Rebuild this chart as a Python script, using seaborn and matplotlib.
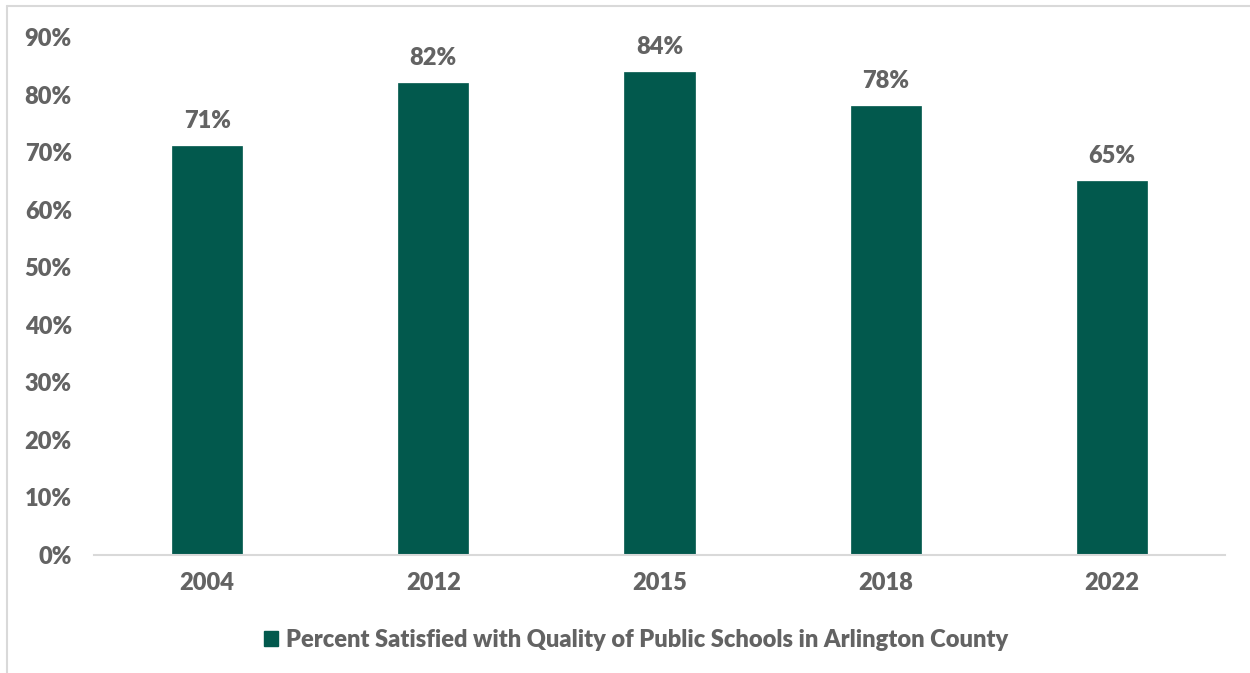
import matplotlib
matplotlib.use("Agg")
import matplotlib.pyplot as plt
import seaborn as sns
import pandas as pd
from matplotlib.patches import Patch
from matplotlib.lines import Line2D

years = ["2004", "2012", "2015", "2018", "2022"]
values = [71, 82, 84, 78, 65]
series_name = "Percent Satisfied with Quality of Public Schools in Arlington County"
yticks = [0, 10, 20, 30, 40, 50, 60, 70, 80, 90]

BAR = "#02594D"
TXT = "#636363"
GRID = "#D9D9D9"
FS = 17
WT = "heavy"

sns.set_theme(style="white")
plt.rcParams['font.family'] = ['Lato', 'DejaVu Sans']

df = pd.DataFrame({"year": years, "value": values})

fig = plt.figure(figsize=(12.5, 6.73), dpi=100)
ax = fig.add_axes([94/1250, 1 - 555/673, (1225-94)/1250, (555-37)/673])

sns.barplot(data=df, x="year", y="value", color=BAR, width=0.31,
            saturation=1, ax=ax, edgecolor=BAR, linewidth=0.5)

ax.set_ylim(0, 90)
ax.set_xlim(-0.5, 4.5)
ax.set_yticks(yticks)
ax.set_yticklabels([f"{v}%" for v in yticks])
ax.set_xlabel("")
ax.set_ylabel("")
for s in ["top", "right", "left"]:
    ax.spines[s].set_visible(False)
ax.spines["bottom"].set_color(GRID)
ax.spines["bottom"].set_linewidth(1.5)
ax.tick_params(axis="both", length=0, labelsize=FS, labelcolor=TXT)
ax.tick_params(axis="y", pad=16)
ax.tick_params(axis="x", pad=12)
for lab in ax.get_xticklabels() + ax.get_yticklabels():
    lab.set_fontweight(WT)

for i, v in enumerate(values):
    ax.annotate(f"{v}%", (i, v), xytext=(0, 10), textcoords="offset points",
                ha="center", va="bottom", fontsize=FS, fontweight=WT, color=TXT)

handle = Patch(facecolor=BAR, edgecolor=BAR)
fig.legend([handle], [series_name], loc="center", bbox_to_anchor=(636/1250, 1 - 640/673),
           frameon=False, prop={"weight": WT, "size": FS},
           handlelength=0.6, handleheight=0.6, handletextpad=0.35, labelcolor=TXT)

# chart-area border (top and left visible in the crop)
fig.add_artist(Line2D([7/1250, 7/1250], [0, 1 - 6/673], transform=fig.transFigure,
                      color=GRID, linewidth=1.5))
fig.add_artist(Line2D([7/1250, 1], [1 - 6/673, 1 - 6/673], transform=fig.transFigure,
                      color=GRID, linewidth=1.5))

fig.savefig("out.png", dpi=100, facecolor="white")
